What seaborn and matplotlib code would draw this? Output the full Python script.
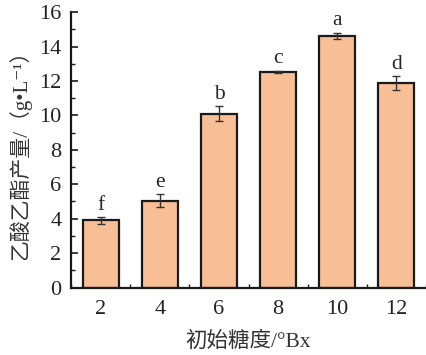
import matplotlib
matplotlib.use("Agg")
import matplotlib.pyplot as plt
import seaborn as sns
import pandas as pd
import numpy as np
from matplotlib.ticker import MultipleLocator

categories = ["2", "4", "6", "8", "10", "12"]
values = [3.9, 5.05, 10.1, 12.52, 14.63, 11.88]
errors = [0.18, 0.37, 0.43, 0.07, 0.17, 0.4]
letters = ["f", "e", "b", "c", "a", "d"]

sns.set_theme(style="ticks")
plt.rcParams['font.family'] = ['Liberation Serif', 'Noto Sans CJK SC', 'DejaVu Serif']

df = pd.DataFrame({"cat": categories, "val": values})

fig = plt.figure(figsize=(4.27, 3.55), dpi=100)
ax = fig.add_axes([0.167, 0.19, 0.83, 0.776])

sns.barplot(data=df, x="cat", y="val", color="#F8BF96", width=0.61,
            edgecolor="#1a1a1a", linewidth=1.6, saturation=1, errorbar=None, ax=ax)
ax.errorbar(np.arange(len(categories)), values, yerr=errors, fmt="none",
            ecolor="#333333", elinewidth=1.0, capsize=3, capthick=1.0)
for i, (v, e, l) in enumerate(zip(values, errors, letters)):
    ax.text(i, v + e + 0.15, l, ha="center", va="bottom", fontsize=15.5,
            family=['Liberation Serif'])

ax.set_xlim(-0.5, 5.5)
ax.set_ylim(0, 16)
ax.yaxis.set_major_locator(MultipleLocator(2))
ax.yaxis.set_minor_locator(MultipleLocator(1))
ax.xaxis.set_minor_locator(MultipleLocator(0.5))
ax.tick_params(axis="both", which="major", direction="in", length=5, width=1.2,
               labelsize=16, color="#1a1a1a")
ax.tick_params(axis="x", which="major", pad=9)
ax.tick_params(axis="y", which="major", pad=7)
ax.tick_params(axis="both", which="minor", direction="in", length=3, width=1.0,
               color="#1a1a1a")
for s in ["top", "right"]:
    ax.spines[s].set_visible(False)
for s in ["left", "bottom"]:
    ax.spines[s].set_linewidth(1.6)
    ax.spines[s].set_color("#1a1a1a")

ax.set_xlabel("初始糖度/°Bx", fontsize=15.5, color="#333333", labelpad=9)
ax.set_ylabel("乙酸乙酯产量/（g•L⁻¹）", fontsize=15, color="#333333", labelpad=6)
for lab in ax.get_xticklabels() + ax.get_yticklabels():
    lab.set_color("#222222")

fig.savefig("out.png", dpi=100)
